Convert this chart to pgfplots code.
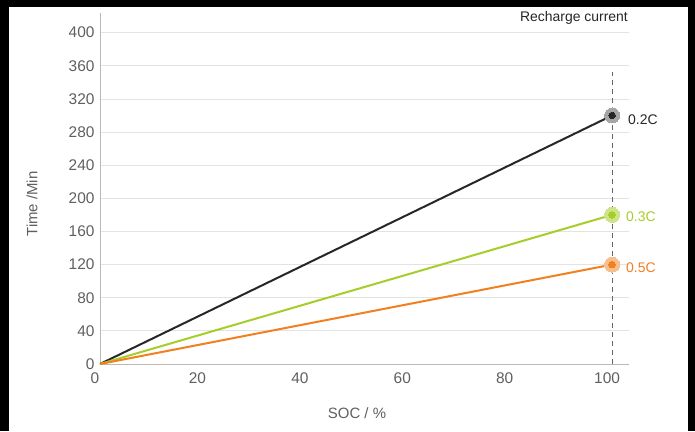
\documentclass[border=0pt]{standalone}
\usepackage{pgfplots}
\pgfplotsset{compat=1.18}
\usepackage{fontspec}
\setmainfont{Liberation Sans}
\definecolor{cblack}{HTML}{2A2627}
\definecolor{cgreen}{HTML}{A6CE2A}
\definecolor{corange}{HTML}{F2801E}
\definecolor{tgray}{HTML}{606060}
\begin{document}
\begin{tikzpicture}[x=1bp,y=1bp]
\fill[black] (0,0) rectangle (695,431);
\fill[white] (9,0) rectangle (688,424);
\begin{axis}[
  at={(100bp,67bp)}, anchor=origin,
  scale only axis, width=529bp, height=351bp,
  xmin=0, xmax=103.3, ymin=0, ymax=423.7,
  axis x line*=bottom, axis y line*=left,
  axis line style={-, draw=gray!55, line width=0.9bp},
  xtick={0,20,40,60,80,100}, ytick={0,40,...,400},
  major tick length=0pt,
  ymajorgrids, grid style={draw=gray!22, line width=0.8bp},
  tick label style={font=\fontsize{15.5}{15.5}\selectfont, text=tgray},
  /pgf/number format/assume math mode=true,
  xticklabel style={yshift=-5bp, xshift=-5bp},
  yticklabel style={xshift=-2bp},
  clip=false,
]
\addplot[cblack, line width=2bp] coordinates {(0,0) (100,300)};
\addplot[cgreen, line width=2bp] coordinates {(0,0) (100,180)};
\addplot[corange, line width=2bp] coordinates {(0,0) (100,120)};
\addplot[only marks, color=gray!70, mark=*, mark size=7.5bp, mark options={solid, line width=0pt}] coordinates {(100,300)};
\addplot[only marks, color=cgreen!55, mark=*, mark size=7.5bp, mark options={solid, line width=0pt}] coordinates {(100,180)};
\addplot[only marks, color=corange!50, mark=*, mark size=7.5bp, mark options={solid, line width=0pt}] coordinates {(100,120)};
\addplot[draw=gray!80!black, line width=0.8bp, dash pattern=on 5bp off 4bp] coordinates {(100,0) (100,353)};
\addplot[only marks, color=cblack, mark=*, mark size=3.3bp, mark options={solid, line width=0pt}] coordinates {(100,300)};
\addplot[only marks, color=cgreen, mark=*, mark size=3.3bp, mark options={solid, line width=0pt}] coordinates {(100,180)};
\addplot[only marks, color=corange, mark=*, mark size=3.3bp, mark options={solid, line width=0pt}] coordinates {(100,120)};
\end{axis}
\node[text=tgray, font=\fontsize{15}{15}\selectfont] at (357,18) {SOC / \%};
\node[text=tgray, font=\fontsize{15}{15}\selectfont, rotate=90] at (32,227) {Time /Min};
\node[text=black!85, font=\fontsize{14}{14}\selectfont] at (574,413) {Recharge current};
\node[anchor=west, inner sep=0, text=black!85, font=\fontsize{14}{14}\selectfont] at (628,311) {0.2C};
\node[anchor=west, inner sep=0, text=cgreen, font=\fontsize{14}{14}\selectfont] at (626,214) {0.3C};
\node[anchor=west, inner sep=0, text=corange, font=\fontsize{14}{14}\selectfont] at (626,163) {0.5C};
\end{tikzpicture}
\end{document}
